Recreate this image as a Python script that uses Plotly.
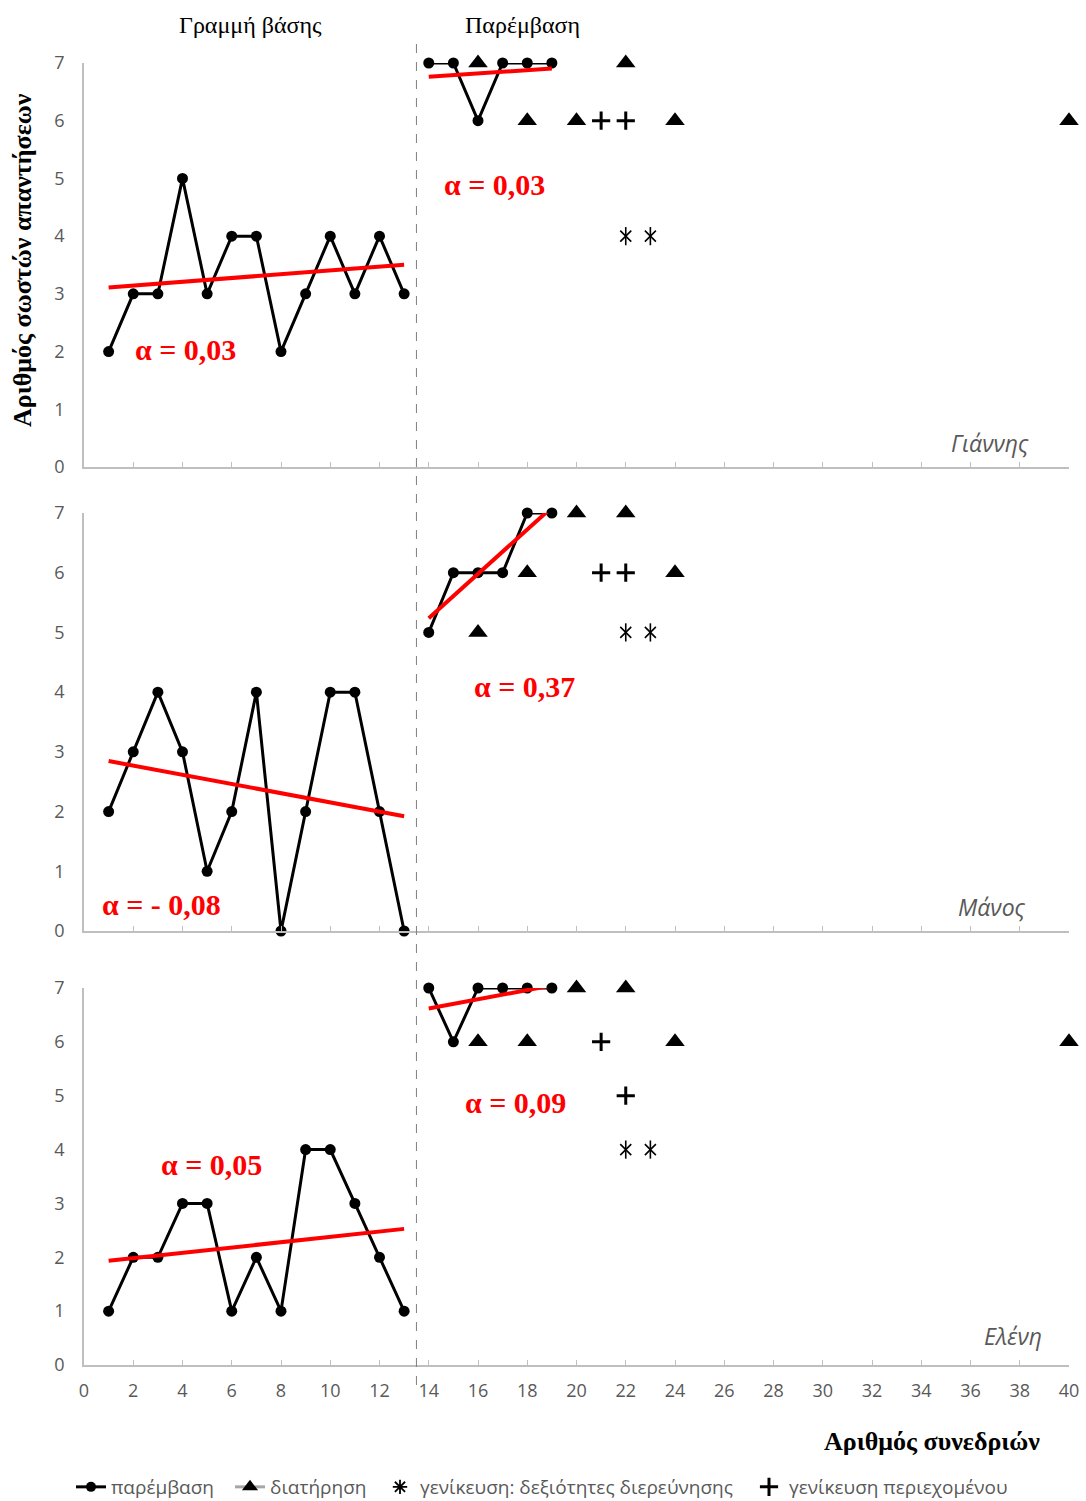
import numpy as np
import plotly.graph_objects as go

# ---------------- data ----------------
names = ["Γιάννης", "Μάνος", "Ελένη"]
baseline_sessions = list(range(1, 14))
intervention_sessions = list(range(14, 20))

baseline_values = [
    [2, 3, 3, 5, 3, 4, 4, 2, 3, 4, 3, 4, 3],
    [2, 3, 4, 3, 1, 2, 4, 0, 2, 4, 4, 2, 0],
    [1, 2, 2, 3, 3, 1, 2, 1, 4, 4, 3, 2, 1],
]
intervention_values = [
    [7, 7, 6, 7, 7, 7],
    [5, 6, 6, 6, 7, 7],
    [7, 6, 7, 7, 7, 7],
]
maintenance_x = [
    [16, 18, 20, 22, 24, 40],
    [16, 18, 20, 22, 24],
    [16, 18, 20, 22, 24, 40],
]
maintenance_y = [
    [7, 6, 6, 7, 6, 6],
    [5, 6, 7, 7, 6],
    [6, 6, 7, 7, 6, 6],
]
gen_skills_x = [[22, 23], [22, 23], [22, 23]]
gen_skills_y = [[4, 4], [5, 5], [4, 4]]
gen_content_x = [[21, 22], [21, 22], [21, 22]]
gen_content_y = [[6, 6], [6, 6], [6, 5]]
phase_change = 13.5

series_names = ["παρέμβαση", "διατήρηση", "γενίκευση: δεξιότητες διερεύνησης", "γενίκευση περιεχομένου"]
phase_labels = ["Γραμμή βάσης", "Παρέμβαση"]
y_title = "Αριθμός σωστών απαντήσεων"
x_title = "Αριθμός συνεδριών"

# label placements (data coords) for slope labels and names
alpha_base_pos = [(4.14, 2.04), (3.13, 0.45), (5.16, 3.73)]
alpha_int_pos = [(16.69, 4.89), (17.9, 4.10), (17.54, 4.88)]
name_pos = [(38.46, 0.42), (38.33, 0.40), (38.98, 0.54)]

# ---------------- layout geometry ----------------
W, H = 1086, 1501
ML, MR, MT, MB = 84, 17, 63, 136
plot_h = H - MT - MB
panel_px = [(63, 467), (513, 931), (988, 1365)]  # (top y7, bottom y0)
legend_text_px = [111, 270, 420, 789]  # left edge of each legend label


def py2paper(py):
    return (H - MB - py) / plot_h


def px2paper(px):
    return (px - ML) / (W - ML - MR)


GRAY_AX = "#BFBFBF"
GRAY_TXT = "#595959"
SANS = "Open Sans, Noto Sans, sans-serif"
SERIF = "Liberation Serif, DejaVu Serif, serif"

fig = go.Figure()
annotations = []


def fmt_alpha(s):
    txt = f"{abs(s):.2f}".replace(".", ",")
    return "α = " + ("- " if s < 0 else "") + txt


for i in range(3):
    xa = "x" if i == 0 else f"x{i+1}"
    ya = "y" if i == 0 else f"y{i+1}"
    # baseline
    fig.add_trace(go.Scatter(x=baseline_sessions, y=baseline_values[i], mode="lines+markers",
                             line=dict(color="black", width=3),
                             marker=dict(symbol="circle", size=11, color="black"),
                             xaxis=xa, yaxis=ya, showlegend=False, cliponaxis=False))
    # intervention
    fig.add_trace(go.Scatter(x=intervention_sessions, y=intervention_values[i], mode="lines+markers",
                             line=dict(color="black", width=3),
                             marker=dict(symbol="circle", size=11, color="black"),
                             xaxis=xa, yaxis=ya, showlegend=False, cliponaxis=False))
    # trend lines (OLS)
    for xs, ys, pos in ((baseline_sessions, baseline_values[i], alpha_base_pos[i]),
                        (intervention_sessions, intervention_values[i], alpha_int_pos[i])):
        slope, icpt = np.polyfit(xs, ys, 1)
        xe = np.array([xs[0], xs[-1]], dtype=float)
        fig.add_trace(go.Scatter(x=xe, y=slope * xe + icpt, mode="lines",
                                 line=dict(color="#FF0000", width=4),
                                 xaxis=xa, yaxis=ya, showlegend=False, cliponaxis=False))
        annotations.append(dict(x=pos[0], y=pos[1], xref=xa, yref=ya, text=fmt_alpha(slope),
                                showarrow=False, xanchor="center", yanchor="middle",
                                font=dict(family=SERIF, size=30, color="#FF0000", weight="bold")))
    # maintenance
    fig.add_trace(go.Scatter(x=maintenance_x[i], y=maintenance_y[i], mode="markers",
                             marker=dict(symbol="triangle-up", size=17, color="black"),
                             xaxis=xa, yaxis=ya, showlegend=False, cliponaxis=False))
    # generalization skills (6-arm asterisk: x + vertical bar)
    for sym in ("x-thin-open", "line-ns-open"):
        fig.add_trace(go.Scatter(x=gen_skills_x[i], y=gen_skills_y[i], mode="markers",
                                 marker=dict(symbol=sym, size=11 if sym == "x-thin-open" else 13,
                                             color="black", line=dict(width=1.6, color="black")),
                                 xaxis=xa, yaxis=ya, showlegend=False, cliponaxis=False))
    # generalization content
    fig.add_trace(go.Scatter(x=gen_content_x[i], y=gen_content_y[i], mode="markers",
                             marker=dict(symbol="cross-thin-open", size=13, color="black",
                                         line=dict(width=3, color="black")),
                             xaxis=xa, yaxis=ya, showlegend=False, cliponaxis=False))
    # name
    annotations.append(dict(x=name_pos[i][0], y=name_pos[i][1], xref=xa, yref=ya, text=f"<i>{names[i]}</i>",
                            showarrow=False, xanchor="right", yanchor="middle",
                            font=dict(family=SANS, size=23, color=GRAY_TXT)))

# legend-only dummy traces, each in its own legend for exact placement
legend_ids = ["legend", "legend2", "legend3", "legend4"]
fig.add_trace(go.Scatter(x=[None], y=[None], mode="lines+markers", name=series_names[0],
                         line=dict(color="black", width=3), legend=legend_ids[0],
                         marker=dict(symbol="circle", size=10, color="black")))
fig.add_trace(go.Scatter(x=[None], y=[None], mode="lines+markers", name=series_names[1],
                         line=dict(color="#A6A6A6", width=3), legend=legend_ids[1],
                         marker=dict(symbol="triangle-up", size=14, color="black")))
fig.add_trace(go.Scatter(x=[None], y=[None], mode="markers", name=series_names[2],
                         legend=legend_ids[2],
                         marker=dict(symbol="asterisk-open", size=12, color="black",
                                     line=dict(width=1.8, color="black"))))
fig.add_trace(go.Scatter(x=[None], y=[None], mode="markers", name=series_names[3],
                         legend=legend_ids[3],
                         marker=dict(symbol="cross-thin-open", size=13, color="black",
                                     line=dict(width=3, color="black"))))

layout = dict(
    width=W, height=H,
    margin=dict(l=ML, r=MR, t=MT, b=MB, autoexpand=False),
    plot_bgcolor="white", paper_bgcolor="white",
    showlegend=True,
)
for lid, tx in zip(legend_ids, legend_text_px):
    layout[lid] = dict(orientation="h", x=px2paper(tx - 40), y=py2paper(1487),
                       xanchor="left", yanchor="middle",
                       font=dict(family=SANS, size=19, color=GRAY_TXT), itemwidth=30,
                       bgcolor="rgba(0,0,0,0)")

for i in range(3):
    top, bot = panel_px[i]
    xk = "xaxis" if i == 0 else f"xaxis{i+1}"
    yk = "yaxis" if i == 0 else f"yaxis{i+1}"
    ya = "y" if i == 0 else f"y{i+1}"
    xa = "x" if i == 0 else f"x{i+1}"
    layout[xk] = dict(domain=[0, 1], anchor=ya, range=[0, 40], dtick=2, tick0=0,
                      showline=True, linecolor=GRAY_AX, linewidth=1.5,
                      ticks="inside", ticklen=5, tickcolor=GRAY_AX, tickwidth=1,
                      showgrid=False, zeroline=False,
                      showticklabels=(i == 2), ticklabelstandoff=9,
                      tickfont=dict(family=SANS, size=18, color=GRAY_TXT),
                      fixedrange=True)
    layout[yk] = dict(domain=[py2paper(bot), py2paper(top)], anchor=xa, range=[0, 7], dtick=1,
                      showline=True, linecolor=GRAY_AX, linewidth=1.5,
                      ticks="", showgrid=False, zeroline=False,
                      ticklabelstandoff=14,
                      tickfont=dict(family=SANS, size=18, color=GRAY_TXT),
                      fixedrange=True)

fig.update_layout(**layout)

# phase change line spanning all panels
fig.add_shape(type="line", xref="x3", yref="paper", x0=phase_change, x1=phase_change,
              y0=py2paper(1385), y1=py2paper(37),
              line=dict(color="#7F7F7F", width=1, dash="dash"))

annotations += [
    dict(x=px2paper(250), y=py2paper(25), xref="paper", yref="paper", text=phase_labels[0],
         showarrow=False, xanchor="center", yanchor="middle",
         font=dict(family=SERIF, size=24, color="black")),
    dict(x=px2paper(522), y=py2paper(25), xref="paper", yref="paper", text=phase_labels[1],
         showarrow=False, xanchor="center", yanchor="middle",
         font=dict(family=SERIF, size=24, color="black")),
    dict(x=px2paper(22), y=py2paper(260), xref="paper", yref="paper", text=y_title,
         showarrow=False, textangle=-90, xanchor="center", yanchor="middle",
         font=dict(family=SERIF, size=26, color="black", weight="bold")),
    dict(x=px2paper(1042), y=py2paper(1441), xref="paper", yref="paper", text=x_title,
         showarrow=False, xanchor="right", yanchor="middle",
         font=dict(family=SERIF, size=26, color="black", weight="bold")),
]
fig.update_layout(annotations=annotations)

fig.write_html("out.html")
